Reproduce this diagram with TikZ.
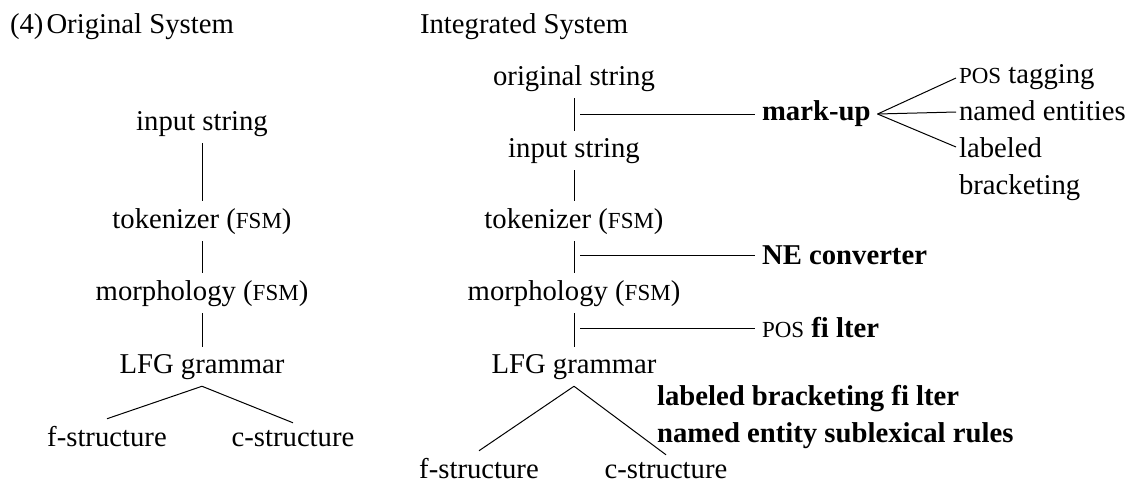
\documentclass[tikz,border=0pt]{standalone}
\usepackage{fontspec}
\setmainfont{Liberation Serif}
\newcommand\smc[1]{{\fontsize{11.5pt}{12pt}\selectfont #1}}
\begin{document}
\begin{tikzpicture}[x=0.5pt,y=-0.5pt,
  every node/.style={font=\fontsize{14.35pt}{18.5pt}\selectfont, inner sep=3.33pt},
  txt/.style={anchor=base},
  lbl/.style={anchor=west, font=\fontsize{14.35pt}{18.5pt}\selectfont\bfseries},
  conn/.style={line width=0.5pt}]
\useasboundingbox (0,0) rectangle (1129,483);
% titles
\node[anchor=base west] (t1) at (3,33) {(4)\kern1.5pt Original System};
\node[anchor=base west] (t2) at (413,33) {Integrated System};
% left column
\node[txt] (inL)  at (202,130) {input string};
\node[txt] (tokL) at (202,228) {tokenizer (\smc{FSM})};
\node[txt] (morL) at (202,300) {morphology (\smc{FSM})};
\node[txt] (lfgL) at (202,373) {LFG grammar};
\node[txt] (fsL)  at (107,446) {f-structure};
\node[txt] (csL)  at (293,446) {c-structure};
\draw[conn] (inL) -- (tokL);
\draw[conn] (tokL) -- (morL);
\draw[conn] (morL) -- (lfgL);
\draw[conn] (lfgL.south) -- (fsL.north);
\draw[conn] (lfgL.south) -- (csL.north);
% right column
\node[txt] (orig) at (574,85)  {original string};
\node[txt] (inR)  at (574,157) {input string};
\node[txt] (tokR) at (574,228) {tokenizer (\smc{FSM})};
\node[txt] (morR) at (574,300) {morphology (\smc{FSM})};
\node[txt] (lfgR) at (574,373) {LFG grammar};
\node[txt] (fsR)  at (479,478) {f-structure};
\node[txt] (csR)  at (666,478) {c-structure};
\draw[conn] (orig) -- (inR);
\draw[conn] (inR) -- (tokR);
\draw[conn] (tokR) -- (morR);
\draw[conn] (morR) -- (lfgR);
\draw[conn] (lfgR.south) -- (fsR.north);
\draw[conn] (lfgR.south) -- (csR.north);
% side labels
\node[lbl] (markup) at (755,114) {mark-up};
\node[lbl] (ne)     at (755,255) {NE converter};
\node[anchor=west] (posf) at (755,328) {\smc{POS} \textbf{fi lter}};
\node[lbl, align=left] (rules) at (650,417) {labeled bracketing fi lter\\named entity sublexical rules};
\coordinate (s1) at (580,114);
\coordinate (s2) at (580,255);
\coordinate (s3) at (580,328);
\draw[conn] (s1) -- (markup.west);
\draw[conn] (s2) -- (ne.west);
\draw[conn] (s3) -- (posf.west);
% mark-up fan
\node[anchor=base west] (post)  at (952,83)  {\smc{POS} tagging};
\node[anchor=base west] (named) at (952,120) {named entities};
\node[anchor=base west] (lab1)  at (952,157) {labeled};
\node[anchor=base west] (lab2)  at (952,194) {bracketing};
\coordinate (f1) at (956,78);
\coordinate (f2) at (956,112);
\coordinate (f3) at (956,147);
\draw[conn] (markup.east) -- (f1);
\draw[conn] (markup.east) -- (f2);
\draw[conn] (markup.east) -- (f3);
\end{tikzpicture}
\end{document}
